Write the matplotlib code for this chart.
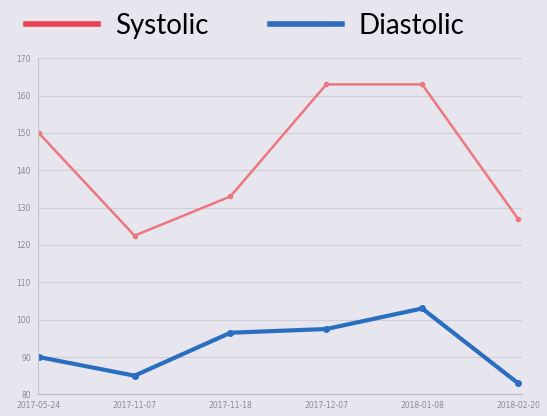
import matplotlib.pyplot as plt
from matplotlib.lines import Line2D

# data
dates = ['2017-05-24', '2017-11-07', '2017-11-18', '2017-12-07', '2018-01-08', '2018-02-20']
systolic = [150, 122.5, 133, 163, 163, 127]
diastolic = [90, 85, 96.5, 97.5, 103, 83]
yticks = [80, 90, 100, 110, 120, 130, 140, 150, 160, 170]

bg = '#e7e5ee'
red = '#ec7780'
blue = '#2a6ebf'
ink = '#8a8a92'

fig = plt.figure(figsize=(5.47, 4.16), dpi=100, facecolor=bg)
ax = fig.add_axes([0.069, 0.052, 0.885, 0.808])
ax.set_facecolor(bg)

x = list(range(len(dates)))
ax.plot(x, systolic, color=red, lw=1.8, marker='o', ms=3, solid_joinstyle='miter')
ax.plot(x, diastolic, color=blue, lw=3.0, marker='o', ms=4, solid_joinstyle='miter')

ax.set_xlim(-0.01, 5.04)
ax.set_ylim(80, 170)
ax.set_yticks(yticks)
ax.set_xticks(x)
ax.set_xticklabels(dates)
ax.tick_params(colors=ink, labelsize=5.5, length=0, pad=5)
ax.grid(axis='y', color='#cfcdd6', lw=0.8)
for s in ['top', 'right']:
    ax.spines[s].set_visible(False)
ax.spines['left'].set_color('#c4c2cc')
ax.spines['bottom'].set_color('#b8b6c0')

# legend at top
handles = [Line2D([], [], color='#e8434f', lw=4),
           Line2D([], [], color='#2f6cc0', lw=4)]
fig.legend(handles, ['Systolic', 'Diastolic'], loc='upper left',
           bbox_to_anchor=(0.002, 1.03), ncol=2, frameon=False,
           handlelength=2.6, columnspacing=2.2, handletextpad=0.6,
           prop={'family': 'Lato', 'size': 20})

fig.savefig('out.png', dpi=100, facecolor=bg)
